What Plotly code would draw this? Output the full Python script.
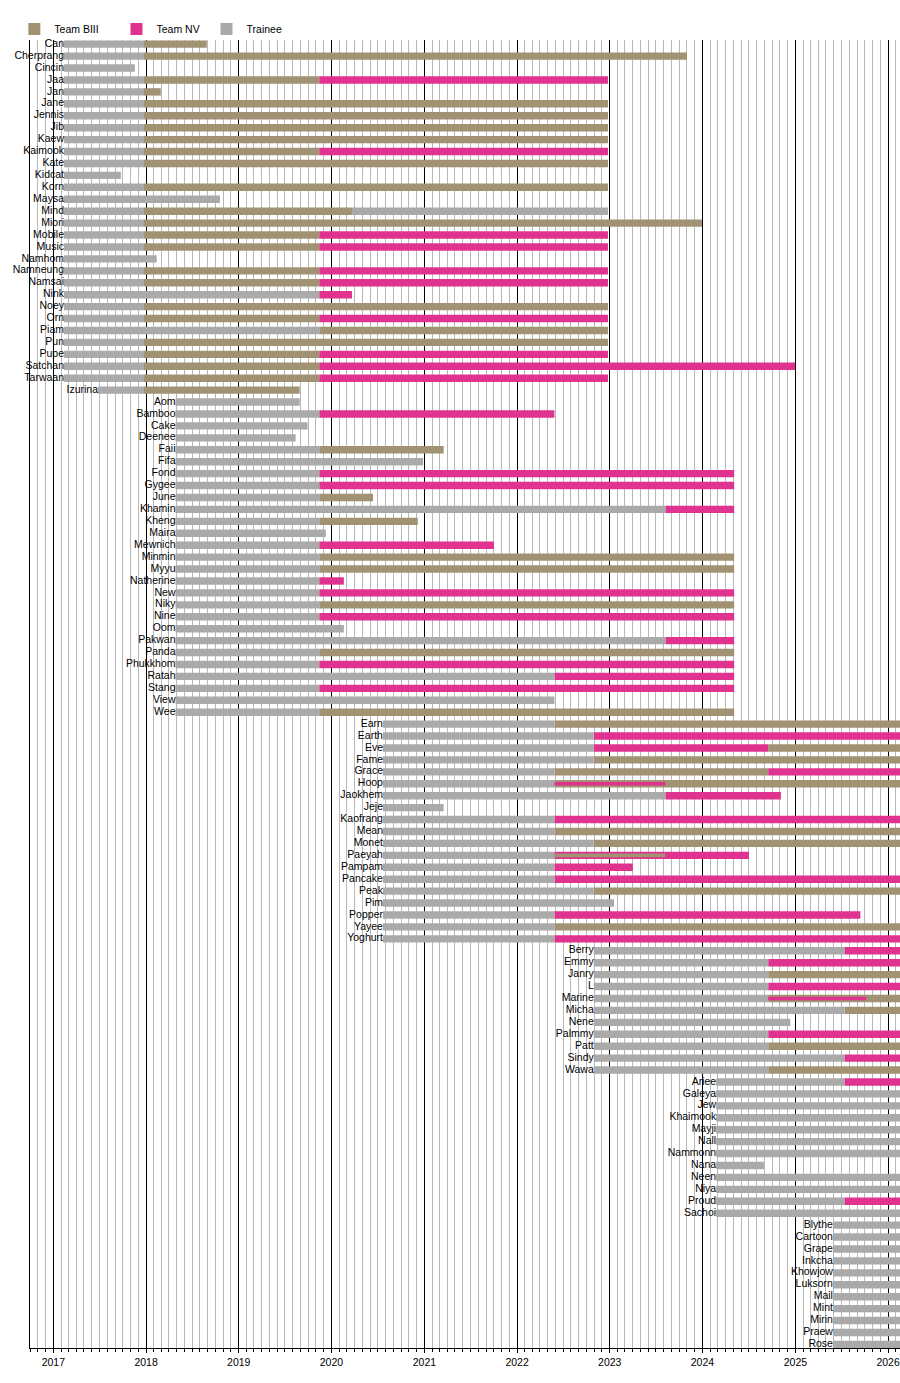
import pandas as pd
import plotly.graph_objects as go

# colours
C_BIII = "#a09272"
C_NV = "#e0338f"
C_TRAINEE = "#aaaaaa"

# key dates
GEN1_START = "2017-02-12"
BIII_START = "2017-12-24"
NV_START = "2019-11-14"
GEN1_END = "2022-12-25"
GEN2_START = "2018-04-27"
GEN2_END = "2024-05-05"
GEN3_START = "2020-07-22"
PROMO_MAY22 = "2022-05-28"
GEN4_START = "2022-10-30"      # also second 3rd-gen promotion
SHUFFLE_AUG23 = "2023-08-08"
GEN5_START = "2024-02-24"
PROMO_SEP24 = "2024-09-16"
GEN6_START = "2025-05-29"
PROMO_JUL25 = "2025-07-13"
NOW = "2026-03-01"

# (member, [(status, start, end), ...])   T = trainee, B = Team BIII, N = Team NV
gen1 = [
    ("Can", [("T", GEN1_START, BIII_START), ("B", BIII_START, "2018-08-28")]),
    ("Cherprang", [("T", GEN1_START, BIII_START), ("B", BIII_START, "2023-11-01")]),
    ("Cincin", [("T", GEN1_START, "2017-11-18")]),
    ("Jaa", [("T", GEN1_START, BIII_START), ("B", BIII_START, NV_START), ("N", NV_START, GEN1_END)]),
    ("Jan", [("T", GEN1_START, BIII_START), ("B", BIII_START, "2018-02-28")]),
    ("Jane", [("T", GEN1_START, BIII_START), ("B", BIII_START, GEN1_END)]),
    ("Jennis", [("T", GEN1_START, BIII_START), ("B", BIII_START, GEN1_END)]),
    ("Jib", [("T", GEN1_START, BIII_START), ("B", BIII_START, GEN1_END)]),
    ("Kaew", [("T", GEN1_START, BIII_START), ("B", BIII_START, GEN1_END)]),
    ("Kaimook", [("T", GEN1_START, BIII_START), ("B", BIII_START, NV_START), ("N", NV_START, GEN1_END)]),
    ("Kate", [("T", GEN1_START, BIII_START), ("B", BIII_START, GEN1_END)]),
    ("Kidcat", [("T", GEN1_START, "2017-09-24")]),
    ("Korn", [("T", GEN1_START, BIII_START), ("B", BIII_START, GEN1_END)]),
    ("Maysa", [("T", GEN1_START, "2018-10-19")]),
    ("Mind", [("T", GEN1_START, BIII_START), ("B", BIII_START, "2020-03-22"), ("T", "2020-03-22", GEN1_END)]),
    ("Miori", [("T", GEN1_START, BIII_START), ("B", BIII_START, "2023-12-30")]),
    ("Mobile", [("T", GEN1_START, BIII_START), ("B", BIII_START, NV_START), ("N", NV_START, GEN1_END)]),
    ("Music", [("T", GEN1_START, BIII_START), ("B", BIII_START, NV_START), ("N", NV_START, GEN1_END)]),
    ("Namhom", [("T", GEN1_START, "2018-02-12")]),
    ("Namneung", [("T", GEN1_START, BIII_START), ("B", BIII_START, NV_START), ("N", NV_START, GEN1_END)]),
    ("Namsai", [("T", GEN1_START, BIII_START), ("B", BIII_START, NV_START), ("N", NV_START, GEN1_END)]),
    ("Nink", [("T", GEN1_START, NV_START), ("N", NV_START, "2020-03-22")]),
    ("Noey", [("T", GEN1_START, BIII_START), ("B", BIII_START, GEN1_END)]),
    ("Orn", [("T", GEN1_START, BIII_START), ("B", BIII_START, NV_START), ("N", NV_START, GEN1_END)]),
    ("Piam", [("T", GEN1_START, NV_START), ("B", NV_START, GEN1_END)]),
    ("Pun", [("T", GEN1_START, BIII_START), ("B", BIII_START, GEN1_END)]),
    ("Pupe", [("T", GEN1_START, BIII_START), ("B", BIII_START, NV_START), ("N", NV_START, GEN1_END)]),
    ("Satchan", [("T", GEN1_START, BIII_START), ("B", BIII_START, NV_START), ("N", NV_START, "2024-12-31")]),
    ("Tarwaan", [("T", GEN1_START, BIII_START), ("B", BIII_START, NV_START), ("N", NV_START, GEN1_END)]),
    ("Izurina", [("T", "2017-06-26", BIII_START), ("B", BIII_START, "2019-08-29")]),
]

gen2 = [
    ("Aom", [("T", GEN2_START, "2019-08-29")]),
    ("Bamboo", [("T", GEN2_START, NV_START), ("N", NV_START, PROMO_MAY22)]),
    ("Cake", [("T", GEN2_START, "2019-09-29")]),
    ("Deenee", [("T", GEN2_START, "2019-08-13")]),
    ("Faii", [("T", GEN2_START, NV_START), ("B", NV_START, "2021-03-18")]),
    ("Fifa", [("T", GEN2_START, "2020-12-27")]),
    ("Fond", [("T", GEN2_START, NV_START), ("N", NV_START, GEN2_END)]),
    ("Gygee", [("T", GEN2_START, NV_START), ("N", NV_START, GEN2_END)]),
    ("June", [("T", GEN2_START, NV_START), ("B", NV_START, "2020-06-13")]),
    ("Khamin", [("T", GEN2_START, SHUFFLE_AUG23), ("N", SHUFFLE_AUG23, GEN2_END)]),
    ("Kheng", [("T", GEN2_START, NV_START), ("B", NV_START, "2020-12-06")]),
    ("Maira", [("T", GEN2_START, "2019-12-10")]),
    ("Mewnich", [("T", GEN2_START, NV_START), ("N", NV_START, "2021-10-02")]),
    ("Minmin", [("T", GEN2_START, NV_START), ("B", NV_START, GEN2_END)]),
    ("Myyu", [("T", GEN2_START, NV_START), ("B", NV_START, GEN2_END)]),
    ("Natherine", [("T", GEN2_START, NV_START), ("N", NV_START, "2020-02-19")]),
    ("New", [("T", GEN2_START, NV_START), ("N", NV_START, GEN2_END)]),
    ("Niky", [("T", GEN2_START, NV_START), ("B", NV_START, GEN2_END)]),
    ("Nine", [("T", GEN2_START, NV_START), ("N", NV_START, GEN2_END)]),
    ("Oom", [("T", GEN2_START, "2020-02-19")]),
    ("Pakwan", [("T", GEN2_START, SHUFFLE_AUG23), ("N", SHUFFLE_AUG23, GEN2_END)]),
    ("Panda", [("T", GEN2_START, NV_START), ("B", NV_START, GEN2_END)]),
    ("Phukkhom", [("T", GEN2_START, NV_START), ("N", NV_START, GEN2_END)]),
    ("Ratah", [("T", GEN2_START, PROMO_MAY22), ("N", PROMO_MAY22, GEN2_END)]),
    ("Stang", [("T", GEN2_START, NV_START), ("N", NV_START, GEN2_END)]),
    ("View", [("T", GEN2_START, PROMO_MAY22)]),
    ("Wee", [("T", GEN2_START, NV_START), ("B", NV_START, GEN2_END)]),
]

gen3 = [
    ("Earn", [("T", GEN3_START, PROMO_MAY22), ("B", PROMO_MAY22, NOW)]),
    ("Earth", [("T", GEN3_START, GEN4_START), ("N", GEN4_START, NOW)]),
    ("Eve", [("T", GEN3_START, GEN4_START), ("N", GEN4_START, PROMO_SEP24), ("B", PROMO_SEP24, NOW)]),
    ("Fame", [("T", GEN3_START, GEN4_START), ("B", GEN4_START, NOW)]),
    ("Grace", [("T", GEN3_START, PROMO_MAY22), ("B", PROMO_MAY22, PROMO_SEP24), ("N", PROMO_SEP24, NOW)]),
    ("Hoop", [("T", GEN3_START, PROMO_MAY22), ("B", PROMO_MAY22, NOW)]),
    ("Jaokhem", [("T", GEN3_START, SHUFFLE_AUG23), ("N", SHUFFLE_AUG23, "2024-11-05")]),
    ("Jeje", [("T", GEN3_START, "2021-03-18")]),
    ("Kaofrang", [("T", GEN3_START, PROMO_MAY22), ("N", PROMO_MAY22, NOW)]),
    ("Mean", [("T", GEN3_START, PROMO_MAY22), ("B", PROMO_MAY22, NOW)]),
    ("Monet", [("T", GEN3_START, GEN4_START), ("B", GEN4_START, NOW)]),
    ("Paeyah", [("T", GEN3_START, PROMO_MAY22), ("N", PROMO_MAY22, "2024-07-02")]),
    ("Pampam", [("T", GEN3_START, PROMO_MAY22), ("N", PROMO_MAY22, "2023-04-02")]),
    ("Pancake", [("T", GEN3_START, PROMO_MAY22), ("N", PROMO_MAY22, NOW)]),
    ("Peak", [("T", GEN3_START, GEN4_START), ("B", GEN4_START, NOW)]),
    ("Pim", [("T", GEN3_START, "2023-01-18")]),
    ("Popper", [("T", GEN3_START, PROMO_MAY22), ("N", PROMO_MAY22, "2025-09-14")]),
    ("Yayee", [("T", GEN3_START, PROMO_MAY22), ("B", PROMO_MAY22, NOW)]),
    ("Yoghurt", [("T", GEN3_START, PROMO_MAY22), ("N", PROMO_MAY22, NOW)]),
]

gen4 = [
    ("Berry", [("T", GEN4_START, PROMO_JUL25), ("N", PROMO_JUL25, NOW)]),
    ("Emmy", [("T", GEN4_START, PROMO_SEP24), ("N", PROMO_SEP24, NOW)]),
    ("Janry", [("T", GEN4_START, PROMO_SEP24), ("B", PROMO_SEP24, NOW)]),
    ("L", [("T", GEN4_START, PROMO_SEP24), ("N", PROMO_SEP24, NOW)]),
    ("Marine", [("T", GEN4_START, PROMO_SEP24), ("B", PROMO_SEP24, NOW)]),
    ("Micha", [("T", GEN4_START, PROMO_JUL25), ("B", PROMO_JUL25, NOW)]),
    ("Nene", [("T", GEN4_START, "2024-12-12")]),
    ("Palmmy", [("T", GEN4_START, PROMO_SEP24), ("N", PROMO_SEP24, NOW)]),
    ("Patt", [("T", GEN4_START, PROMO_SEP24), ("B", PROMO_SEP24, NOW)]),
    ("Sindy", [("T", GEN4_START, PROMO_JUL25), ("N", PROMO_JUL25, NOW)]),
    ("Wawa", [("T", GEN4_START, PROMO_SEP24), ("B", PROMO_SEP24, NOW)]),
]

gen5 = [
    ("Ariee", [("T", GEN5_START, PROMO_JUL25), ("N", PROMO_JUL25, NOW)]),
    ("Galeya", [("T", GEN5_START, NOW)]),
    ("Jew", [("T", GEN5_START, NOW)]),
    ("Khaimook", [("T", GEN5_START, NOW)]),
    ("Mayji", [("T", GEN5_START, NOW)]),
    ("Nall", [("T", GEN5_START, NOW)]),
    ("Nammonn", [("T", GEN5_START, NOW)]),
    ("Nana", [("T", GEN5_START, "2024-08-30")]),
    ("Neen", [("T", GEN5_START, NOW)]),
    ("Niya", [("T", GEN5_START, NOW)]),
    ("Proud", [("T", GEN5_START, PROMO_JUL25), ("N", PROMO_JUL25, NOW)]),
    ("Sachoi", [("T", GEN5_START, NOW)]),
]

gen6_names = ["Blythe", "Cartoon", "Grape", "Inkcha", "Khowjow", "Luksorn",
              "Mail", "Mint", "Mirin", "Praew", "Rose"]
gen6 = [(n, [("T", GEN6_START, NOW)]) for n in gen6_names]

# concurrent positions, drawn as thin bars on top
overlays = [
    ("Hoop", "N", PROMO_MAY22, SHUFFLE_AUG23),
    ("Paeyah", "B", PROMO_MAY22, SHUFFLE_AUG23),
    ("Marine", "N", PROMO_SEP24, "2025-10-07"),
]

STATUS = {"B": ("Team BIII", C_BIII, "legend"),
          "N": ("Team NV", C_NV, "legend2"),
          "T": ("Trainee", C_TRAINEE, "legend3")}

members = gen1 + gen2 + gen3 + gen4 + gen5 + gen6
row_of = {name: i for i, (name, _) in enumerate(members)}


def ms(start, end):
    return (pd.Timestamp(end) - pd.Timestamp(start)).total_seconds() * 1000


fig = go.Figure()

for code in ["B", "N", "T"]:
    label, color, leg = STATUS[code]
    base, dur, ys = [], [], []
    for name, segs in members:
        for st, s, e in segs:
            if st == code:
                base.append(s)
                dur.append(ms(s, e))
                ys.append(row_of[name])
    fig.add_trace(go.Bar(
        orientation="h", base=base, x=dur, y=ys, width=0.62,
        marker=dict(color=color, line=dict(width=0)),
        name=label, legend=leg, hoverinfo="skip",
    ))

for code in ["N", "B"]:
    label, color, _ = STATUS[code]
    rows = [o for o in overlays if o[1] == code]
    fig.add_trace(go.Bar(
        orientation="h",
        base=[o[2] for o in rows],
        x=[ms(o[2], o[3]) for o in rows],
        y=[row_of[o[0]] for o in rows],
        width=0.3,
        marker=dict(color=color, line=dict(width=0)),
        showlegend=False, hoverinfo="skip",
    ))

# member names just left of where each bar begins
fig.add_trace(go.Scatter(
    x=[segs[0][1] for _, segs in members],
    y=list(range(len(members))),
    text=[name for name, _ in members],
    mode="text", textposition="middle left",
    textfont=dict(size=10.5, color="black"),
    cliponaxis=False, showlegend=False, hoverinfo="skip",
))

font = dict(family="Liberation Sans, Arial, sans-serif", size=10.5, color="black")
leg_common = dict(orientation="h", yanchor="middle", y=1.0084, xanchor="left",
                  font=font, bgcolor="rgba(0,0,0,0)", borderwidth=0)

fig.update_layout(
    width=900, height=1383,
    margin=dict(l=30, r=0, t=40, b=35),
    barmode="overlay",
    plot_bgcolor="white", paper_bgcolor="white",
    font=font,
    legend=dict(x=-0.018, **leg_common),
    legend2=dict(x=0.0994, **leg_common),
    legend3=dict(x=0.2029, **leg_common),
    xaxis=dict(
        type="date", range=["2016-10-01", "2026-02-17"],
        tick0="2017-01-01", dtick="M12", tickformat="%Y",
        showgrid=True, gridcolor="black", gridwidth=1,
        ticks="outside", ticklen=4, tickcolor="black",
        showline=True, linecolor="black", linewidth=1,
        zeroline=False,
        minor=dict(dtick="M1", showgrid=True, gridcolor="#b8b8b8", gridwidth=1,
                   ticks="outside", ticklen=3, tickcolor="black"),
    ),
    yaxis=dict(
        range=[109.3, -0.35], showgrid=False, zeroline=False,
        showticklabels=False, ticks="",
        showline=True, linecolor="black", linewidth=1,
    ),
)

# drop the browser's default 8px body margin so the figure fills the window
fig.write_html("out.html",
               config={"displayModeBar": False},
               post_script="document.body.style.margin='0';document.body.style.overflow='hidden';")
